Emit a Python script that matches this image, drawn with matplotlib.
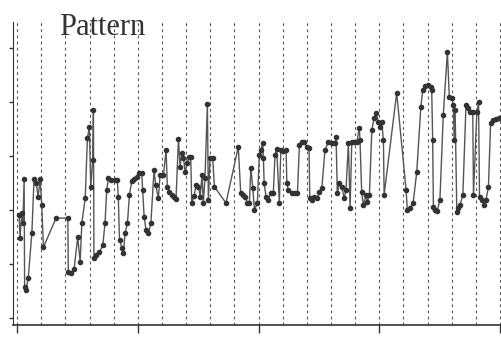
import numpy as np
import matplotlib
matplotlib.use("Agg")
import matplotlib.pyplot as plt

# readings (x: time, y: level)
t = [0.8, 1.2, 1.9, 2.4, 2.9, 3.1, 3.7, 4.6, 6.1, 7.0, 7.9, 8.7, 9.5, 10.2, 10.9,
     16.1, 21.0, 21.2, 22.4, 23.6, 25.1, 26.1, 26.8, 28.2, 29.1, 29.9, 30.5, 31.3,
     31.6, 31.8, 32.7, 34.1, 35.5, 36.4, 37.1, 37.8, 38.8, 40.6, 41.5, 41.9, 42.4,
     43.4, 44.0, 44.7, 45.7, 46.5, 47.5, 48.6, 49.6, 50.6, 51.6, 52.0, 52.6, 53.4,
     54.4, 55.4, 56.7, 57.4, 58.5, 59.2, 60.6, 61.7, 62.2, 63.1, 64.1, 65.0, 65.8,
     66.8, 67.5, 68.2, 68.9, 69.6, 70.5, 71.3, 71.9, 72.3, 73.3, 74.1, 75.1, 75.8,
     76.6, 77.1, 77.8, 78.8, 79.2, 79.9, 81.0, 81.7, 86.5, 91.6, 92.6, 93.7, 94.4,
     95.4, 96.2, 96.8, 97.6, 98.3, 99.5, 100.3, 101.0, 101.7, 102.0, 102.3, 103.1,
     104.1, 105.1, 106.1, 106.8, 107.5, 108.6, 109.2, 110.3, 111.4, 111.7, 112.3,
     113.7, 115.1, 116.1, 116.9, 117.9, 118.8, 120.0, 120.9, 121.2, 122.0, 123.0,
     124.1, 125.2, 126.2, 127.5, 128.9, 130.3, 131.7, 132.1, 132.6, 133.5, 134.5,
     135.4, 136.2, 137.2, 137.9, 138.6, 139.5, 140.7, 141.7, 142.0, 142.7, 143.4,
     144.5, 145.0, 145.9, 146.9, 147.8, 148.7, 149.6, 150.3, 151.0, 151.7, 152.0,
     157.2, 161.1, 161.6, 162.7, 164.0, 165.5, 167.2, 168.0, 169.0, 170.3, 171.3,
     171.7, 172.1, 172.4, 173.1, 174.0, 175.1, 176.5, 178.2, 179.0, 180.0, 180.7,
     181.0, 181.4, 182.1, 182.7, 183.4, 184.6, 185.9, 186.9, 187.6, 188.7, 189.0,
     190.4, 191.1, 191.5, 192.4, 193.4, 194.2, 195.2, 196.1, 197.2, 198.3, 199.7]

level = [1.91, 1.48, 1.94, 1.76, 2.57, 0.57, 0.52, 0.74, 1.57, 2.57, 2.50, 2.24, 2.57, 2.09, 1.31,
         1.85, 1.85, 0.85, 0.83, 0.91, 1.50, 1.04, 1.76, 2.22, 3.33, 3.54, 2.43, 2.93,
         3.85, 1.11, 1.17, 1.22, 1.35, 1.76, 2.37, 2.59, 2.56, 2.56, 2.56, 2.24, 1.44,
         1.30, 1.20, 1.57, 1.76, 2.28, 2.54, 2.57, 2.61, 2.69, 2.69, 2.37, 1.87, 1.63,
         1.57, 1.76, 2.74, 2.46, 2.22, 2.65, 2.65, 3.11, 2.43, 2.33, 2.28, 2.24, 2.20,
         3.31, 2.80, 3.06, 2.96, 2.70, 2.87, 2.98, 2.98, 2.13, 2.26, 2.46, 2.43, 2.24,
         2.65, 2.13, 2.59, 3.96, 2.19, 2.96, 2.96, 2.43, 2.13, 3.17, 2.31, 2.28, 2.24,
         2.13, 2.13, 2.78, 2.41, 2.00, 2.13, 3.02, 3.11, 3.24, 2.96, 2.50, 2.24,
         2.19, 2.31, 2.31, 3.02, 3.13, 2.13, 3.11, 3.09, 3.11, 2.50, 2.37,
         2.31, 2.31, 2.31, 3.20, 3.26, 3.26, 3.17, 3.15, 2.22, 2.19, 2.24,
         2.22, 2.33, 2.41, 3.11, 3.26, 3.24, 3.24, 3.35, 2.31, 2.50, 2.43,
         2.22, 2.37, 3.24, 2.04, 3.26, 3.26, 3.26, 3.52, 3.30, 2.33, 2.09,
         2.28, 2.15, 2.28, 3.48, 3.70, 3.80, 3.63, 3.54, 3.63, 3.30, 2.28,
         4.17, 2.37, 2.00, 2.04, 2.13, 2.70, 3.91, 4.22, 4.30, 4.31, 4.28,
         4.22, 3.30, 2.06, 2.00, 1.98, 2.19, 3.76, 4.93, 4.09, 4.07, 3.94,
         3.30, 3.85, 1.96, 2.04, 2.09, 2.28, 3.94, 3.89, 3.81, 3.81, 2.28,
         3.81, 4.00, 2.24, 2.19, 2.09, 2.19, 2.43, 3.61, 3.67, 3.69, 3.70]

xticks = [0, 50, 100, 150, 200]
yticks = [0, 1, 2, 3, 4, 5]
grid_x = np.arange(0, 201, 10)

fig = plt.figure(figsize=(5.01, 3.41), dpi=100)
ax = fig.add_axes([0.026, 0.047, 0.974, 0.888])

for g in grid_x:
    ax.axvline(g, color="#555555", lw=0.8, ls=(0, (2.5, 3)), zorder=1)

ax.plot(t, level, color="#555555", lw=1.0, marker="o", ms=3.0,
        mfc="#333333", mec="#333333", zorder=3)

ax.set_xlim(-1.7, 200.4)
ax.set_ylim(-0.13, 5.48)
ax.set_xticks(xticks)
ax.set_yticks(yticks)
ax.set_xticklabels([])
ax.set_yticklabels([])
ax.tick_params(axis="x", direction="out", length=6, width=1, color="#333333")
ax.tick_params(axis="y", direction="out", length=3, width=1, color="#333333")
ax.spines["top"].set_visible(False)
ax.spines["right"].set_visible(False)
ax.spines["left"].set_color("#333333")
ax.spines["bottom"].set_color("#333333")
ax.spines["bottom"].set_linewidth(1.2)
ax.patch.set_alpha(0)

fig.text(0.117, 0.897, "Pattern", family="Liberation Serif", fontsize=22,
         color="#333333", va="baseline", ha="left")

fig.savefig("out.png", dpi=100)
